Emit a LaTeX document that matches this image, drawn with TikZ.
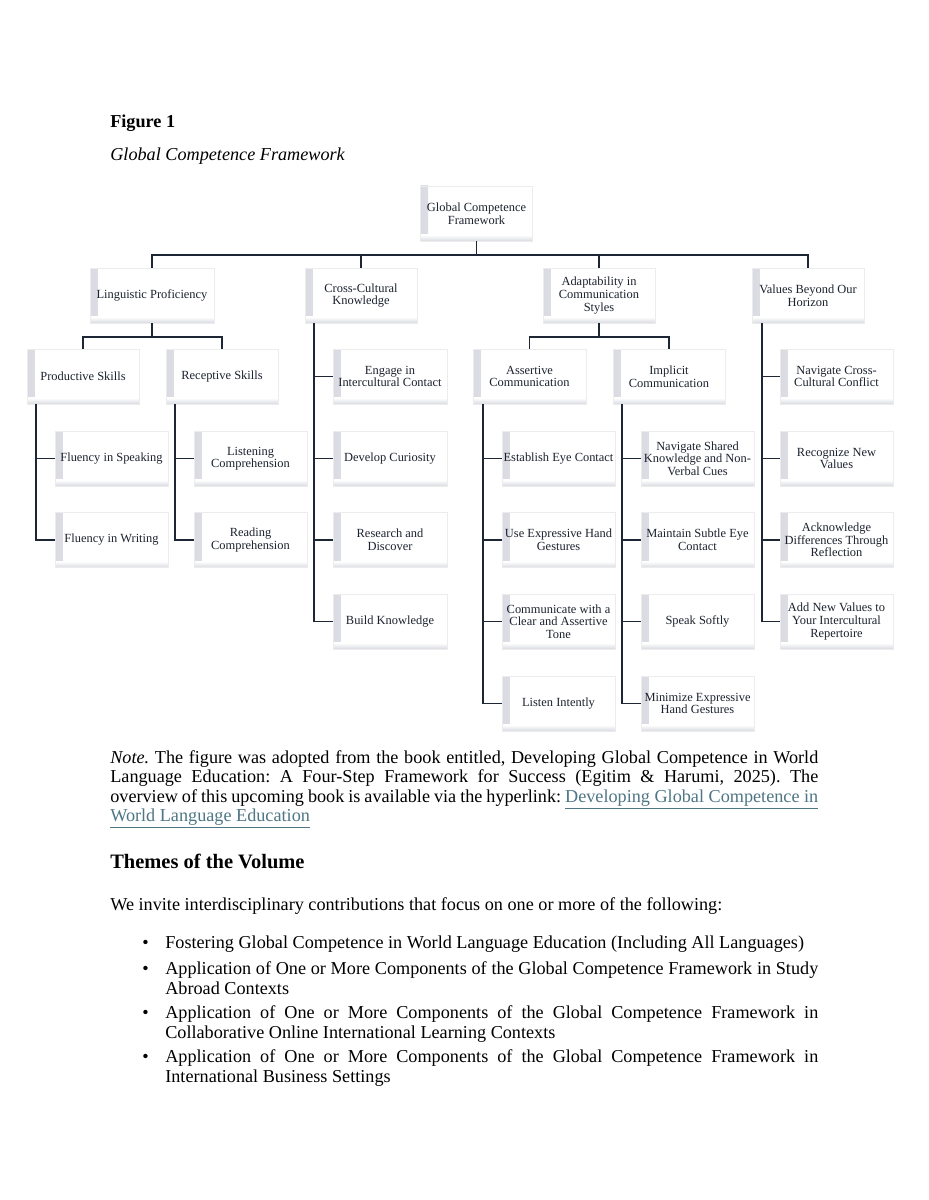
\documentclass[tikz,border=0pt]{standalone}
\usepackage{fontspec}
\setmainfont{Liberation Serif}
\frenchspacing

\newlength\pxu
\setlength\pxu{0.6595pt}

\definecolor{linecol}{RGB}{28,38,52}
\definecolor{boxtext}{RGB}{28,34,46}
\definecolor{linkcol}{RGB}{78,118,132}
\definecolor{bevel}{RGB}{218,219,226}

\tikzset{
  box/.style={draw=gray!15, line width=0.4pt, fill=white,
    minimum width=112\pxu, minimum height=55\pxu, inner sep=1pt,
    align=center, text=boxtext, font=\fontsize{8.2}{8.3}\selectfont,
    path picture={
      \shade[left color=bevel, right color=white]
        (path picture bounding box.south west) rectangle ([xshift=5pt]path picture bounding box.north west);
      \shade[bottom color=bevel, top color=white]
        (path picture bounding box.south west) rectangle ([yshift=4pt]path picture bounding box.south east);
    }},
  branch/.style={draw=linecol, line width=1.2pt},
  txt/.style={anchor=base west, inner sep=0pt, font=\fontsize{12}{14}\selectfont},
}

\newcommand\weblink[1]{\textcolor{linkcol}{\underline{#1}}}

\begin{document}
\begin{tikzpicture}[x=\pxu, y=-\pxu]
  \fill[white] (0,0) rectangle (928,1200);
  \useasboundingbox (0,0) rectangle (928,1200);

  % heading of the figure
  \node[txt, font=\bfseries\fontsize{12}{14}\selectfont] at (110,128) (fignum) {Figure 1};
  \node[txt, font=\itshape\fontsize{12}{14}\selectfont] at (110,161) (figtitle) {Global Competence Framework};

  % top of the tree
  \node[box] at (476.5,213.5) (root) {Global Competence\\Framework};
  \node[box, minimum width=124\pxu] at (152,295.5) (ling) {Linguistic Proficiency};
  \node[box] at (361,295.5) (cross) {Cross-Cultural\\Knowledge};
  \node[box] at (599,295.5) (adapt) {Adaptability in\\Communication\\Styles};
  \node[box] at (808,295.5) (values) {Values Beyond Our\\Horizon};
  \draw[branch] (root.south) -- ++(0,14) -| (ling.north);
  \draw[branch] (root.south) -- ++(0,14) -| (cross.north);
  \draw[branch] (root.south) -- ++(0,14) -| (adapt.north);
  \draw[branch] (root.south) -- ++(0,14) -| (values.north);

  % second row
  \node[box] at (83,376.5) (prod) {Productive Skills};
  \node[box] at (222,376.5) (recep) {Receptive Skills};
  \node[box, minimum width=114\pxu] at (390,376.5) (engage) {Engage in\\Intercultural Contact};
  \node[box, minimum width=113\pxu] at (529.5,376.5) (assert) {Assertive\\Communication};
  \node[box] at (669,376.5) (implicit) {Implicit\\Communication};
  \node[box, minimum width=113\pxu] at (836.5,376.5) (navconf) {Navigate Cross-\\Cultural Conflict};
  \draw[branch] (ling.south) -- ++(0,14) -| (prod.north);
  \draw[branch] (ling.south) -- ++(0,14) -| (recep.north);
  \draw[branch] (adapt.south) -- ++(0,14) -| (assert.north);
  \draw[branch] (adapt.south) -- ++(0,14) -| (implicit.north);

  % leaves
  \node[box, minimum width=113\pxu] at (111.5,458.5) (speak) {Fluency in Speaking};
  \node[box, minimum width=113\pxu] at (111.5,540) (write) {Fluency in Writing};
  \node[box, minimum width=113\pxu] at (250.5,458.5) (listen) {Listening\\Comprehension};
  \node[box, minimum width=113\pxu] at (250.5,540) (read) {Reading\\Comprehension};
  \node[box, minimum width=114\pxu] at (390,458.5) (curio) {Develop Curiosity};
  \node[box, minimum width=114\pxu] at (390,540) (research) {Research and\\Discover};
  \node[box, minimum width=114\pxu] at (390,621.5) (build) {Build Knowledge};
  \node[box, minimum width=113\pxu] at (558.5,458.5) (eye) {Establish Eye Contact};
  \node[box, minimum width=113\pxu] at (558.5,540) (hands) {Use Expressive Hand\\Gestures};
  \node[box, minimum width=113\pxu] at (558.5,621.5) (tone) {Communicate with a\\Clear and Assertive\\Tone};
  \node[box, minimum width=113\pxu] at (558.5,703.5) (intent) {Listen Intently};
  \node[box, minimum width=113\pxu] at (697.5,458.5) (shared) {Navigate Shared\\Knowledge and Non-\\Verbal Cues};
  \node[box, minimum width=113\pxu] at (697.5,540) (subtle) {Maintain Subtle Eye\\Contact};
  \node[box, minimum width=113\pxu] at (697.5,621.5) (softly) {Speak Softly};
  \node[box, minimum width=113\pxu] at (697.5,703.5) (minim) {Minimize Expressive\\Hand Gestures};
  \node[box, minimum width=113\pxu] at (836.5,458.5) (recog) {Recognize New\\Values};
  \node[box, minimum width=113\pxu] at (836.5,540) (acknow) {Acknowledge\\Differences Through\\Reflection};
  \node[box, minimum width=113\pxu] at (836.5,621.5) (addnew) {Add New Values to\\Your Intercultural\\Repertoire};

  \draw[branch] ([xshift=9\pxu]prod.south west) |- (speak.west);
  \draw[branch] ([xshift=9\pxu]prod.south west) |- (write.west);
  \draw[branch] ([xshift=9\pxu]recep.south west) |- (listen.west);
  \draw[branch] ([xshift=9\pxu]recep.south west) |- (read.west);
  \draw[branch] ([xshift=9\pxu]cross.south west) |- (engage.west);
  \draw[branch] ([xshift=9\pxu]cross.south west) |- (curio.west);
  \draw[branch] ([xshift=9\pxu]cross.south west) |- (research.west);
  \draw[branch] ([xshift=9\pxu]cross.south west) |- (build.west);
  \draw[branch] ([xshift=10\pxu]assert.south west) |- (eye.west);
  \draw[branch] ([xshift=10\pxu]assert.south west) |- (hands.west);
  \draw[branch] ([xshift=10\pxu]assert.south west) |- (tone.west);
  \draw[branch] ([xshift=10\pxu]assert.south west) |- (intent.west);
  \draw[branch] ([xshift=9\pxu]implicit.south west) |- (shared.west);
  \draw[branch] ([xshift=9\pxu]implicit.south west) |- (subtle.west);
  \draw[branch] ([xshift=9\pxu]implicit.south west) |- (softly.west);
  \draw[branch] ([xshift=9\pxu]implicit.south west) |- (minim.west);
  \draw[branch] ([xshift=10\pxu]values.south west) |- (navconf.west);
  \draw[branch] ([xshift=10\pxu]values.south west) |- (recog.west);
  \draw[branch] ([xshift=10\pxu]values.south west) |- (acknow.west);
  \draw[branch] ([xshift=10\pxu]values.south west) |- (addnew.west);

  % note under the figure
  \node[txt] at (110,763) (note1) {\makebox[708\pxu][s]{\textit{Note.} The figure was adopted from the book entitled, Developing Global Competence in World}};
  \node[txt] at (110,782.5) (note2) {\makebox[708\pxu][s]{Language Education: A Four-Step Framework for Success (Egitim \& Harumi, 2025). The}};
  \node[txt] at (110,802) (note3) {\makebox[708\pxu][s]{overview of this upcoming book is available via the hyperlink: \weblink{Developing Global Competence in}}};
  \node[txt] at (110,821.5) (note4) {\weblink{World Language Education}};

  % themes
  \node[txt, font=\bfseries\fontsize{13.5}{16}\selectfont] at (110,868) (themes) {Themes of the Volume};
  \node[txt] at (110,910) (invite) {We invite interdisciplinary contributions that focus on one or more of the following:};

  \node[txt] at (142,948) (dot1) {\textbullet};
  \node[txt] at (165,948) (item1) {Fostering Global Competence in World Language Education (Including All Languages)};
  \node[txt] at (142,974) (dot2) {\textbullet};
  \node[txt] at (165,974) (item2a) {\makebox[653\pxu][s]{Application of One or More Components of the Global Competence Framework in Study}};
  \node[txt] at (165,994) (item2b) {Abroad Contexts};
  \node[txt] at (142,1018) (dot3) {\textbullet};
  \node[txt] at (165,1018) (item3a) {\makebox[653\pxu][s]{Application of One or More Components of the Global Competence Framework in}};
  \node[txt] at (165,1038) (item3b) {Collaborative Online International Learning Contexts};
  \node[txt] at (142,1062) (dot4) {\textbullet};
  \node[txt] at (165,1062) (item4a) {\makebox[653\pxu][s]{Application of One or More Components of the Global Competence Framework in}};
  \node[txt] at (165,1082) (item4b) {International Business Settings};
\end{tikzpicture}
\end{document}
